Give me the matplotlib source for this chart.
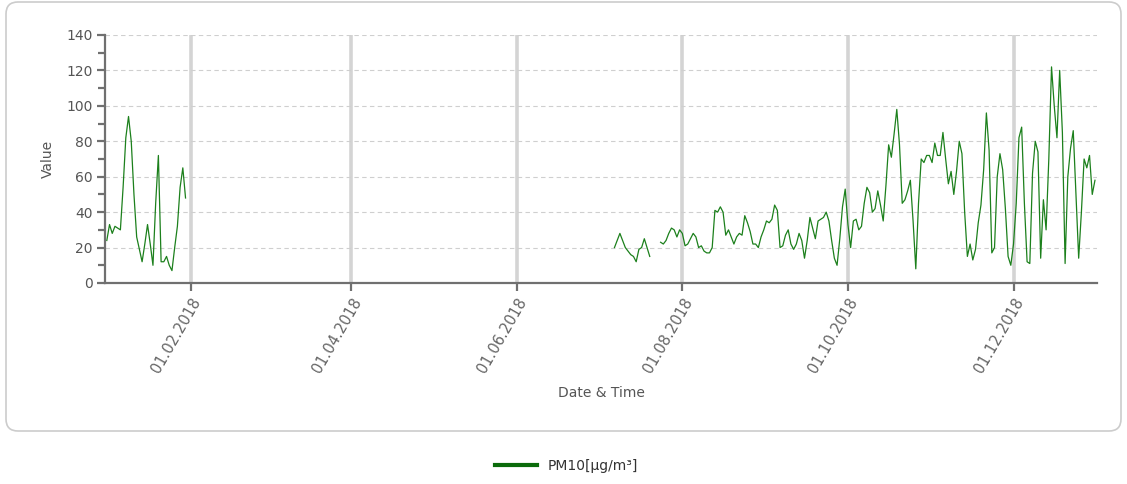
import numpy as np
import pandas as pd
import matplotlib
matplotlib.use('Agg')
import matplotlib.pyplot as plt
import matplotlib.dates as mdates
from matplotlib.patches import FancyBboxPatch
from matplotlib.ticker import MultipleLocator

# PM10 daily values (gaps = no data)
jan_start = '2018-01-01'
jan_values = [24, 33, 28, 32, 31, 30, 54, 82, 94, 80, 50, 26, 19, 12, 22,
              33, 22, 10, 45, 72, 12, 12, 15, 10, 7, 20, 32, 54, 65, 48]

jul_start = '2018-07-07'
jul_values = [20, 24, 28, 24, 20, 18, 16, 15, 12, 19, 20, 25, 20, 15]

late_start = '2018-07-24'
late_values = [23, 22, 24, 28, 31, 30, 26, 30,
               # august
               28, 21, 22, 25, 28, 26, 20, 21, 18, 17, 17, 20, 41, 40, 43, 40,
               27, 30, 26, 22, 26, 28, 27, 38, 34, 29, 22, 22, 20, 26, 30,
               # september
               35, 34, 36, 44, 41, 20, 21, 27, 30, 22, 19, 22, 28, 24, 14,
               24, 37, 31, 25, 35, 36, 37, 40, 35, 24, 14, 10, 25, 43, 53,
               # october
               33, 20, 35, 36, 30, 32, 45, 54, 51, 40, 42, 52, 44, 35, 55, 78,
               71, 84, 98, 78, 45, 47, 52, 58, 35, 8, 45, 70, 68, 72, 72,
               # november
               68, 79, 72, 72, 85, 70, 56, 63, 50, 63, 80, 73, 40, 15, 22,
               13, 19, 34, 44, 64, 96, 75, 17, 20, 60, 73, 64, 42, 15, 10,
               # december
               22, 45, 82, 88, 45, 12, 11, 62, 80, 74, 14, 47, 30, 70, 122, 100,
               82, 120, 85, 11, 60, 76, 86, 50, 14, 40, 70, 65, 72, 50, 58]

series_label = 'PM10[µg/m³]'
line_color = '#1c801c'
text_color = '#555555'
axis_color = '#707070'


def build_series():
    idx = pd.date_range('2018-01-01', '2018-12-31', freq='D')
    s = pd.Series(np.nan, index=idx)
    for start, vals in [(jan_start, jan_values), (jul_start, jul_values), (late_start, late_values)]:
        rng = pd.date_range(start, periods=len(vals), freq='D')
        s[rng] = vals
    return s


def plot():
    s = build_series()

    fig = plt.figure(figsize=(11.27, 4.84), dpi=100)
    # rounded frame around the chart
    frame = FancyBboxPatch((0.06, 0.53), 11.15, 4.29, boxstyle='round,pad=0,rounding_size=0.12',
                           transform=fig.dpi_scale_trans, facecolor='none',
                           edgecolor='#cccccc', linewidth=1.2, zorder=-1)
    fig.patches.append(frame)

    ax = fig.add_axes([105 / 1127, 1 - 283 / 484, 992 / 1127, 248 / 484])
    ax.set_facecolor('none')
    ax.set_zorder(2)

    ax.plot(s.index, s.values, color=line_color, linewidth=0.9, label=series_label)

    ax.set_ylim(0, 140)
    ax.set_xlim(pd.Timestamp('2017-12-31 08:00'), pd.Timestamp('2018-12-31 18:00'))

    ax.yaxis.set_major_locator(MultipleLocator(20))
    ax.yaxis.set_minor_locator(MultipleLocator(10))
    ax.xaxis.set_major_locator(mdates.MonthLocator(bymonth=[2, 4, 6, 8, 10, 12]))
    ax.xaxis.set_major_formatter(mdates.DateFormatter('%d.%m.%Y'))

    # grid: dashed horizontal, thick solid vertical
    ax.grid(axis='y', which='major', linestyle=(0, (4, 3)), color='#cfcfcf', linewidth=0.8)
    ax.grid(axis='x', which='major', linestyle='-', color='#d4d4d4', linewidth=2.6)
    ax.set_axisbelow(True)

    for side in ['top', 'right']:
        ax.spines[side].set_visible(False)
    for side in ['left', 'bottom']:
        ax.spines[side].set_color(axis_color)
        ax.spines[side].set_linewidth(1.6)

    ax.tick_params(axis='y', which='major', length=6, width=1.6, color=axis_color,
                   labelsize=10, labelcolor=text_color, pad=3)
    ax.tick_params(axis='y', which='minor', length=5, width=1.6, color=axis_color)
    ax.tick_params(axis='x', which='major', length=6, width=1.6, color=axis_color,
                   labelsize=10.5, labelcolor='#666666', pad=3)
    for lbl in ax.get_xticklabels():
        lbl.set_rotation(60)
        lbl.set_ha('right')
        lbl.set_rotation_mode('anchor')

    ax.set_xlabel('Date & Time', fontsize=10, color=text_color, labelpad=7)
    ax.set_ylabel('Value', fontsize=10, color=text_color, labelpad=8)

    fig.legend(handles=[plt.Line2D([], [], color='#0b6b0b', linewidth=3)], labels=[series_label],
               loc='center', bbox_to_anchor=(0.503, 1 - 466 / 484), frameon=False,
               fontsize=10, labelcolor='#333333', handlelength=3.0, handletextpad=0.8)

    fig.savefig('out.png', dpi=100)


if __name__ == '__main__':
    plot()
